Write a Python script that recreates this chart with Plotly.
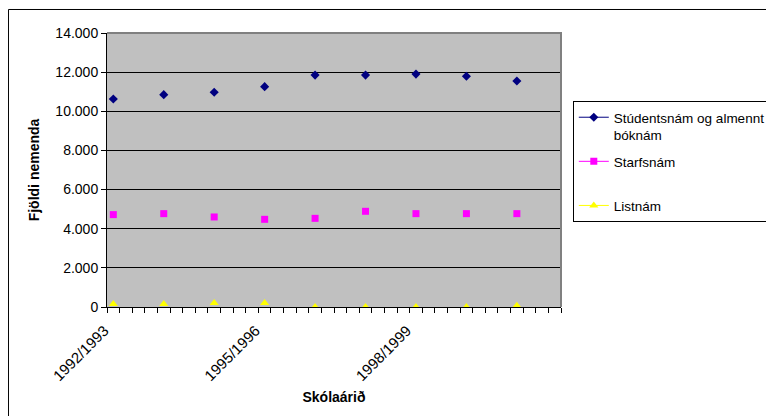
import plotly.graph_objects as go

school_years = ["1992/1993", "1993/1994", "1994/1995", "1995/1996", "1996/1997",
                "1997/1998", "1998/1999", "1999/2000", "2000/2001"]
studentsnam = [10630, 10850, 10970, 11260, 11850, 11850, 11900, 11790, 11550]
starfsnam = [4720, 4770, 4600, 4480, 4530, 4890, 4770, 4770, 4770]
listnam = [150, 150, 200, 210, 0, 0, 0, 0, 70]
shown_labels = ["1992/1993", "1995/1996", "1998/1999"]

series_names = ["Stúdentsnám og almennt<br>bóknám", "Starfsnám<br>\u00a0", "Listnám"]
series_values = [studentsnam, starfsnam, listnam]
series_colors = ["#000080", "#FF00FF", "#FFFF00"]
series_symbols = ["diamond", "square", "triangle-up"]
series_sizes = [7, 7, 8]

FONT = "Liberation Sans, Arial, sans-serif"
x_idx = list(range(len(school_years)))

fig = go.Figure()
for name, vals, col, sym, sz in zip(series_names, series_values, series_colors,
                                    series_symbols, series_sizes):
    grp = name
    fig.add_trace(go.Scatter(
        x=x_idx, y=vals, mode="markers", name=name, legendgroup=grp,
        showlegend=False, text=school_years,
        marker=dict(symbol=sym, size=sz, color=col, line=dict(width=0)),
    ))
    fig.add_trace(go.Scatter(
        x=[None], y=[None], mode="lines+markers", name=name, legendgroup=grp,
        line=dict(color=col, width=1),
        marker=dict(symbol=sym, size=sz, color=col, line=dict(width=0)),
    ))

tickvals = [school_years.index(s) for s in shown_labels]

# page body has an 8px margin, so the figure is sized/margined accordingly
fig.update_layout(
    width=766, height=408,
    margin=dict(l=99, r=213, t=25, b=109, autoexpand=False),
    paper_bgcolor="white",
    plot_bgcolor="#C0C0C0",
    separators=",.",
    font=dict(family=FONT, size=14, color="black"),
    showlegend=True,
    legend=dict(
        x=1.026, y=0.752, xanchor="left", yanchor="top",
        bgcolor="white", bordercolor="black", borderwidth=1,
        font=dict(family=FONT, size=13.5, color="black"),
        valign="top", tracegroupgap=6, traceorder="grouped",
    ),
    xaxis=dict(
        range=[-0.125, len(school_years) - 0.125], automargin=False,
        tickmode="array", tickvals=tickvals, ticktext=shown_labels,
        tickangle=-45, ticks="", showgrid=False, zeroline=False,
        showline=True, linecolor="black", linewidth=1,
        tickfont=dict(family=FONT, size=15),
        ticklabelshift=-9, ticklabelstandoff=8,
        minor=dict(tickmode="linear", tick0=-0.125, dtick=0.25,
                   ticks="outside", ticklen=5, tickcolor="black",
                   tickwidth=1, showgrid=False),
        title=dict(text="<b>Skólaárið</b>", font=dict(family=FONT, size=14),
                   standoff=9),
    ),
    yaxis=dict(
        range=[0, 14000], tickmode="linear", tick0=0, dtick=2000, automargin=False,
        tickformat=",d", ticks="outside", ticklen=5, tickcolor="black",
        showgrid=True, gridcolor="black", gridwidth=1, zeroline=False,
        showline=True, linecolor="black", linewidth=1,
        tickfont=dict(family=FONT, size=14),
        title=dict(text="<b>Fjöldi nemenda</b>", font=dict(family=FONT, size=14),
                   standoff=12),
    ),
    shapes=[
        dict(type="path", xref="paper", yref="paper",
             path="M0,1 L1,1 L1,0", line=dict(color="#808080", width=2),
             layer="above"),
        dict(type="rect", xref="paper", yref="paper",
             x0=-0.217, y0=-0.6, x1=1.6, y1=1.0858,
             line=dict(color="black", width=1), layer="below"),
    ],
)

fig.write_html("out.html")
